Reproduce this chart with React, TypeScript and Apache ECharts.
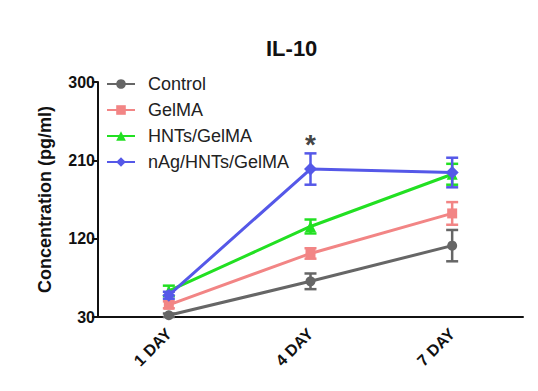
import React, { useEffect, useRef } from "react";
import * as echarts from "echarts";

const categories = ["1 DAY", "4 DAY", "7 DAY"];
const seriesNames = ["Control", "GelMA", "HNTs/GelMA", "nAg/HNTs/GelMA"];
const controlMean = [32, 71, 112];
const controlErr = [2, 9, 18];
const gelmaMean = [44, 103, 149];
const gelmaErr = [4, 6, 13];
const hntsMean = [60, 134, 194];
const hntsErr = [6, 8, 12];
const nagMean = [55, 200, 196];
const nagErr = [4, 18, 17];
const yTicks = [30, 120, 210, 300];
const significance = [{ index: 1, value: 228, mark: "*" }];

const FONT = "'Liberation Sans', Arial, sans-serif";
const colors = ["#666666", "#f28585", "#22e022", "#5558e8"];
const symbols = ["circle", "rect", "triangle", "diamond"];

export default function App() {
  const ref = useRef<HTMLDivElement>(null);
  useEffect(() => {
    if (!ref.current) return;
    const chart = echarts.init(ref.current, undefined, { renderer: "svg" });
    const means = [controlMean, gelmaMean, hntsMean, nagMean];
    const errs = [controlErr, gelmaErr, hntsErr, nagErr];

    const lineSeries: any[] = seriesNames.map((name, i) => ({
      name,
      type: "line",
      data: means[i],
      symbol: symbols[i],
      symbolSize: i === 3 ? 13 : i === 2 ? 11 : 10,
      lineStyle: { color: colors[i], width: 3 },
      itemStyle: { color: colors[i] },
      z: 3 + i,
    }));

    const errSeries: any[] = seriesNames.map((name, i) => ({
      name,
      type: "custom",
      data: means[i].map((m, j) => [j, m - errs[i][j], m + errs[i][j]]),
      z: 3 + i,
      renderItem: (params: any, api: any) => {
        const x = api.value(0);
        const lo = api.coord([x, api.value(1)]);
        const hi = api.coord([x, api.value(2)]);
        const hw = 6;
        const style = { stroke: colors[i], lineWidth: 2.5 };
        return {
          type: "group",
          children: [
            { type: "line", shape: { x1: lo[0], y1: lo[1], x2: hi[0], y2: hi[1] }, style },
            { type: "line", shape: { x1: lo[0] - hw, y1: lo[1], x2: lo[0] + hw, y2: lo[1] }, style },
            { type: "line", shape: { x1: hi[0] - hw, y1: hi[1], x2: hi[0] + hw, y2: hi[1] }, style },
          ],
        };
      },
    }));

    const option: any = {
      animation: false,
      title: {
        text: "IL-10",
        left: 261,
        top: 32,
        textStyle: { fontFamily: FONT, fontSize: 22, fontWeight: "bold", color: "#111" },
      },
      legend: {
        data: seriesNames,
        orient: "vertical",
        left: 101,
        top: 70,
        itemWidth: 28,
        itemHeight: 12,
        itemGap: 8,
        textStyle: {
          fontFamily: FONT,
          fontSize: 18,
          color: "#222",
          padding: [0, 0, 0, 8],
        },
      },
      grid: { left: 98, right: 15, top: 82, bottom: 74, containLabel: false },
      xAxis: {
        type: "category",
        data: categories,
        boundaryGap: true,
        axisLine: { lineStyle: { color: "#111", width: 2 } },
        axisTick: { alignWithLabel: true, length: 6, lineStyle: { color: "#111", width: 2 } },
        axisLabel: {
          rotate: 45,
          margin: 14,
          fontFamily: FONT,
          fontSize: 16,
          fontWeight: "bold",
          color: "#111",
        },
      },
      yAxis: {
        type: "value",
        min: 30,
        max: 300,
        name: "Concentration (pg/ml)",
        nameLocation: "middle",
        nameGap: 44,
        nameTextStyle: { fontFamily: FONT, fontSize: 18, fontWeight: "bold", color: "#111" },
        splitLine: { show: false },
        axisLine: { show: true, lineStyle: { color: "#111", width: 2 } },
        axisTick: { show: true, length: 6, customValues: yTicks, lineStyle: { color: "#111", width: 2 } },
        axisLabel: {
          customValues: yTicks,
          margin: 3,
          fontFamily: FONT,
          fontSize: 16,
          fontWeight: "bold",
          color: "#111",
        },
      },
      series: [
        ...lineSeries,
        ...errSeries,
        {
          type: "scatter",
          symbolSize: 0,
          silent: true,
          data: significance.map((s) => [s.index, s.value]),
          label: {
            show: true,
            position: "inside",
            formatter: () => significance[0].mark,
            fontFamily: FONT,
            fontSize: 28,
            fontWeight: "bold",
            color: "#111",
          },
          z: 10,
        },
      ],
    };
    chart.setOption(option);
    return () => chart.dispose();
  }, []);
  return (
    <div
      ref={ref}
      style={{ position: "fixed", left: 0, top: 0, width: 538, height: 391, background: "#fff" }}
    />
  );
}
